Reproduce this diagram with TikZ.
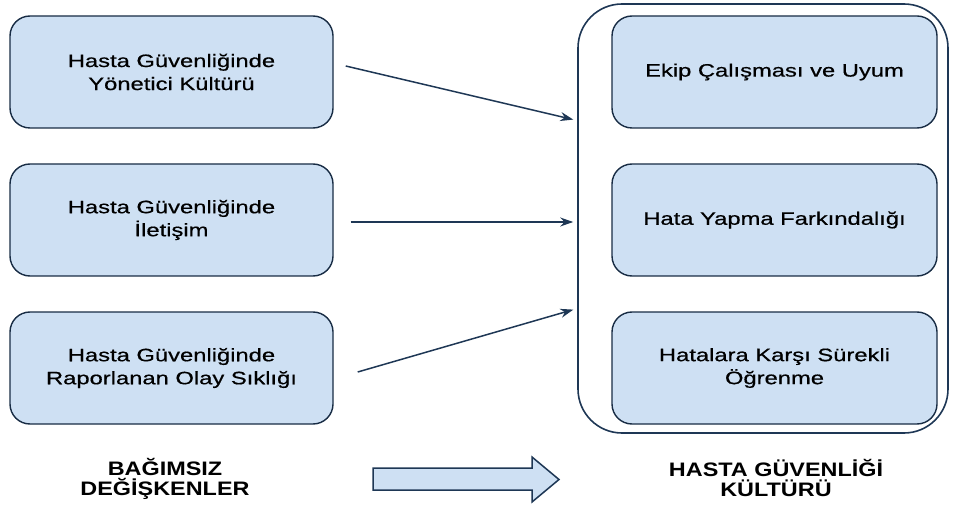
\documentclass[tikz,border=0pt]{standalone}
\usepackage{fontspec}
\setmainfont{Liberation Sans}
\newfontfamily\kutufont{Liberation Sans}[FakeStretch=1.32,FakeBold=0.6]
\newfontfamily\baslikfont{Liberation Sans}[FakeStretch=1.2]
\usetikzlibrary{positioning,arrows.meta}
\definecolor{lacivert}{RGB}{30,55,85}
\definecolor{acikmavi}{RGB}{206,224,243}
\begin{document}
\begin{tikzpicture}[x=1pt, y=1pt, node distance={148pt}, line width=1.4pt,
            main/.style = {draw=lacivert!80!black, fill=acikmavi, rounded corners=20pt,
                minimum width=323pt, minimum height=112pt, align=center,
                font=\kutufont\fontsize{18}{23}\selectfont},
            ok/.style = {draw=lacivert, line width=1.5pt, -{Stealth[length=13pt,width=9pt]}, shorten >=4pt},
            baslik/.style = {align=center, font=\baslikfont\bfseries\fontsize{19.5}{20}\selectfont}]

           \useasboundingbox (0,0) rectangle (961,504);

           \node[main] (1) at (171.5,432) {Hasta Güvenliğinde\\Yönetici Kültürü};
           \node[main] (2) [below of=1] {Hasta Güvenliğinde\\İletişim};
           \node[main] (3) [below of=2] {Hasta Güvenliğinde\\Raporlanan Olay Sıklığı};

           \node[draw=lacivert, rounded corners=44pt, line width=1.6pt,
                 minimum width=370pt, minimum height=429pt] (7) at (763,285.5) {};
           \node[main, minimum width=325pt] (4) at (774.5,432) {Ekip Çalışması ve Uyum};
           \node[main, minimum width=325pt] (5) [below of=4] {Hata Yapma Farkındalığı};
           \node[main, minimum width=325pt] (6) [below of=5] {Hatalara Karşı Sürekli\\Öğrenme};

            %oklar
            \draw[ok] ([shift={(12pt,6pt)}]1.east) -- ([yshift=98pt]7.west);
            \draw[ok] ([shift={(17pt,-2pt)}]2.east) -- ([yshift=-3.5pt]7.west);
            \draw[ok] ([shift={(24pt,-4pt)}]3.east) -- ([yshift=-90pt]7.west);

            %alt yazilar
            \node[baslik] (8) at (165,25.5) {BAĞIMSIZ\\DEĞİŞKENLER};
            \node[baslik] (9) at (776,26) {HASTA GÜVENLİĞİ\\KÜLTÜRÜ};
            \draw[draw=lacivert, fill=acikmavi, line width=1.5pt]
                (373,36) -- (532,36) -- (532,47) -- (559,24.5) -- (532,2) -- (532,14) -- (373,14) -- cycle;
        \end{tikzpicture}
\end{document}
